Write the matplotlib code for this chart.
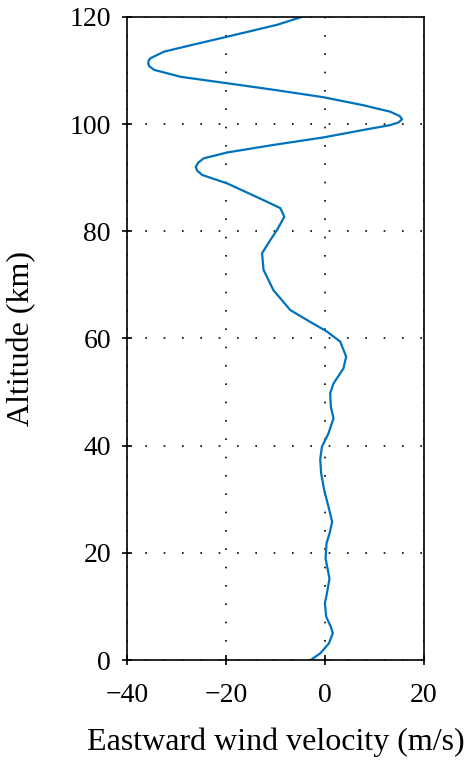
import matplotlib
matplotlib.use("Agg")
import matplotlib.pyplot as plt

# Wind profile (altitude in km, eastward wind in m/s)
altitude = [0.0, 1.25, 3.1, 5.0, 6.2, 8.1, 10.6, 12.4, 15.2, 19.0, 21.8,
            23.6, 25.8, 28.6, 31.7, 34.8, 37.4, 39.8, 42.3, 45.1, 47.3, 49.8,
            51.6, 53.5, 54.4, 56.6, 59.4, 61.3, 63.1, 65.3, 69.0, 72.8, 75.9,
            78.4, 80.2, 82.7, 84.3, 85.8, 88.9, 90.5, 91.3, 92.0, 92.8, 93.6,
            94.7, 96.1, 97.5, 98.9, 99.8, 100.3, 100.9, 101.5, 102.3, 103.5,
            105.0, 106.3, 107.6, 108.8, 110.1, 110.8, 111.3, 111.9, 112.3,
            113.5, 114.7, 116.3, 118.5, 120.0]
eastward = [-2.9, -0.95, 0.8, 1.6, 1.2, 0.26, 0.0, 0.4, 0.93, 0.13, 0.33,
            0.93, 1.47, 0.73, -0.14, -0.75, -0.95, -0.6, 0.73, 1.74, 1.2, 1.07,
            1.74, 3.1, 3.75, 4.3, 3.1, 0.4, -3.0, -7.0, -10.4, -12.4, -12.7,
            -11.0, -9.7, -8.2, -9.0, -12.4, -19.7, -24.8, -25.8, -26.1, -25.6, -24.5,
            -19.7, -10.4, -0.3, 7.8, 13.2, 14.9, 15.6, 15.1, 13.2, 7.8,
            -0.3, -9.7, -19.7, -29.1, -34.5, -35.5, -35.7, -35.6, -35.2,
            -32.5, -27.1, -19.7, -9.7, -4.6]

x_ticks = [-40, -20, 0, 20]
y_ticks = [0, 20, 40, 60, 80, 100, 120]

plt.rcParams['font.family'] = ['Liberation Serif', 'DejaVu Serif']

fig = plt.figure(figsize=(4.72, 7.64), dpi=100)
ax = fig.add_axes([0.269, 0.136, 0.629, 0.842])

ax.plot(eastward, altitude, color='#0072BD', linewidth=1.6,
        solid_joinstyle='round')

ax.set_xlim(-40, 20)
ax.set_ylim(0, 120)
ax.set_xticks(x_ticks)
ax.set_yticks(y_ticks)
ax.set_xticklabels(['\u221240', '\u221220', '0', '20'])
ax.grid(True, color='black', linestyle=(0, (1, 10)), linewidth=1.2)
ax.tick_params(direction='inout', length=7, width=1.2, labelsize=20,
               top=False, right=False)
ax.tick_params(axis='x', pad=13)
ax.tick_params(axis='y', pad=8)
for s in ax.spines.values():
    s.set_linewidth(1.2)

ax.set_xlabel('Eastward wind velocity (m/s)', fontsize=23, labelpad=14)
ax.set_ylabel('Altitude (km)', fontsize=23, labelpad=24)

fig.savefig('out.png', dpi=100)
